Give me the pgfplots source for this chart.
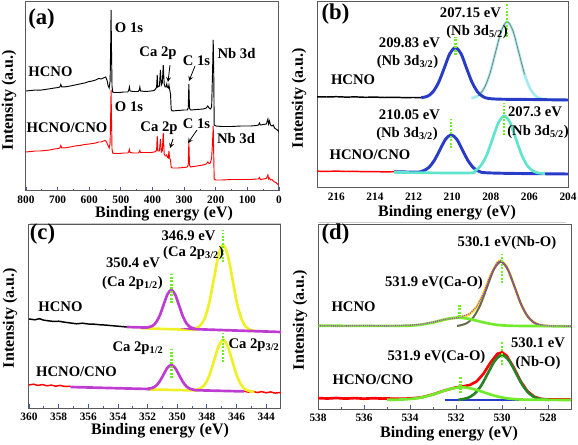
\documentclass[border=0pt]{standalone}
\usepackage{fontspec}
\setmainfont{Liberation Serif}
\usepackage{pgfplots}
\pgfplotsset{compat=1.18}
\definecolor{fitblue}{RGB}{40,60,200}
\definecolor{cyanA}{RGB}{165,235,238}
\definecolor{cyanB}{RGB}{95,228,205}
\definecolor{purp}{RGB}{190,60,210}
\definecolor{yell}{RGB}{240,240,40}
\definecolor{lime}{RGB}{115,235,45}
\definecolor{dgreen}{RGB}{40,130,40}
\definecolor{olive}{RGB}{105,105,80}
\definecolor{dotg}{RGB}{110,240,30}
\definecolor{framecol}{RGB}{90,90,90}
\definecolor{tickcol}{RGB}{70,90,170}
\tikzset{gdot/.style={draw=dotg, line width=1.8pt, dash pattern=on 1.3pt off 1.3pt}}
\pgfplotsset{
 myax/.style={scale only axis, anchor=north west, axis line style={draw=framecol, line width=0.75pt},
  ytick=\empty, ymin=0, x dir=reverse, tick align=inside, xtick pos=left, minor x tick num=1,
  every tick/.style={draw=tickcol, line width=0.6pt}, major tick length=3pt, minor tick length=1.8pt,
  tick label style={font=\bfseries\fontsize{8.5}{9}\selectfont, text=black},
  /pgf/number format/assume math mode=true}
}
\newcommand{\anno}{\bfseries\fontsize{11}{12}\selectfont}
\newcommand{\pan}{\bfseries\fontsize{17}{18}\selectfont}
\newcommand{\lab}{\bfseries\fontsize{12}{13}\selectfont}
\begin{document}
\begin{tikzpicture}
\useasboundingbox (0,0) rectangle (433.5pt,-333.75pt);
% ---------------- (a)
\begin{axis}[myax, at={(19.5pt,-1.5pt)}, width=189.75pt, height=141.75pt,
  xmin=0, xmax=800, ymax=189, xtick={0,100,...,800}]
\addplot[red, line width=0.7pt] coordinates {(800,39)(785,39.5)(770,40)(755,40)(740,40.5)(725,41)(710,42)(698,42.5)(693,43)(690,45.5)(687,43)(675,43.2)(660,44)(645,45)(630,45.5)(615,46.5)(600,47)(590,47.5)(580,48)(570,49)(562,49)(555,50)(548,50.5)(544,48)(540,45)(537,43)(534,48)(532,80)(531,101)(530,80)(528,42)(526,38)(520,37.5)(505,37.5)(490,38)(478,38)(475,39.5)(473,41.5)(471,38.5)(460,38)(445,38)(442,39)(440,40.5)(438,38.5)(420,38.5)(405,38.5)(395,39)(390,39.5)(387,41)(385,55)(383,40)(378,40)(375,52)(372,39)(369,40)(366,58)(363,37)(360,35)(357,35)(355,36)(353,34)(350,33)(348,40)(346,33)(343,31)(341,24)(338,23)(320,23)(300,23.5)(290,24)(287,26)(285,50)(283,26)(280,24)(260,25)(240,26)(230,27)(225,29)(221,27.5)(217,28)(213,33)(210,50)(208,65)(206,30)(205,12)(200,11)(180,11)(150,11.5)(120,11.5)(90,11.5)(70,12)(65,12)(62,13.5)(59,11.5)(50,12)(40,12.5)(37,14.5)(35,16)(33,12)(30,13)(27,11)(22,11.5)(18,10)(14,9)(10,8.5)(5,7)(2,6.5)(0,6)};
\addplot[black, line width=0.7pt] coordinates {(800,100)(785,100.5)(770,101)(755,100.8)(740,101.5)(725,102.2)(710,103)(698,103.5)(693,104)(690,106.5)(687,104)(675,104.2)(660,105)(645,106)(630,107)(615,108)(600,109.5)(590,110)(580,111)(570,112.5)(562,112)(555,113)(548,114)(544,111)(540,105)(537,103)(534,110)(532,150)(531,181)(530,150)(528,105)(526,99)(520,98.5)(505,98.5)(490,99)(478,99)(475,101)(473,104)(471,100)(460,99.5)(445,99.5)(442,101)(440,104)(438,100)(420,99.5)(405,100)(395,100.5)(390,102)(387,104)(385,116)(383,104)(378,105)(375,121)(372,106)(369,108)(366,126)(363,107)(360,104)(357,104)(355,107)(353,104)(350,103)(348,106)(346,102)(343,97)(341,82)(338,80)(320,80.5)(300,81)(290,81)(287,83)(285,107)(283,83)(280,81)(260,81.5)(240,82)(230,83)(225,85)(221,83)(217,82)(213,84)(210,120)(208,151)(206,110)(205,66)(200,65)(180,64.5)(150,64.5)(120,65)(90,65)(70,65.5)(65,66)(62,68)(59,66)(50,66.5)(40,67)(37,70)(35,72)(33,67)(30,70)(27,66)(22,65)(18,66)(14,63)(10,62)(5,61)(2,60)(0,59)};
\end{axis}
% ---------------- (b)
\begin{axis}[myax, at={(237.75pt,-1.5pt)}, width=188.25pt, height=139.5pt,
  xmin=204, xmax=217, ymax=186, xtick={204,206,...,216}, minor x tick num=0, major tick length=0pt]
\addplot[black, line width=1.1pt] coordinates {(217,91.2)(216.5,91.0)(216,91.3)(215.5,90.9)(215,91.1)(214.5,90.7)(214,90.9)(213.5,90.5)(213,90.7)(212.5,90.4)(212,90.5)(211.6,90.3)};
\addplot[cyanA, line width=2pt, smooth] coordinates {(209.0,89.8)(208.65,92.4)(208.35,99.4)(208.05,114.1)(207.75,135.9)(207.45,157.2)(207.15,166.3)(206.85,157.1)(206.55,135.6)(206.25,113.6)(205.95,98.9)(205.65,91.7)(205.35,89.1)(204.6,88.2)(204,88.0)};
\addplot[gray, line width=0.6pt, smooth] coordinates {(208.65,92.4)(208.35,99.4)(208.05,114.1)(207.75,135.9)(207.45,157.2)(207.15,166.3)(206.85,157.1)(206.55,135.6)(206.25,113.6)};
\addplot[fitblue, line width=2.2pt, smooth] coordinates {(211.6,90.3)(211.26,91.9)(210.98,96.5)(210.69,106.1)(210.40,120.4)(210.12,134.4)(209.83,140.3)(209.54,134.3)(209.26,120.1)(208.97,105.7)(208.68,96.0)(208.40,91.3)(208.11,89.5)(207.5,88.8)(206,88.5)(204,88.0)};
\addplot[red, line width=1.1pt] coordinates {(217,16.8)(216.5,16.6)(216,16.9)(215.5,16.5)(215,16.6)(214.5,16.3)(214,16.4)(213.5,16.1)(213,16.3)};
\addplot[fitblue, line width=2.2pt, smooth] coordinates {(213,16.3)(211.8,15.9)(211.5,17.2)(211.21,20.5)(210.92,27.7)(210.63,38.3)(210.34,48.8)(210.05,53.2)(209.76,48.7)(209.47,38.1)(209.18,27.4)(208.89,20.1)(208.6,16.6)(208.3,15.3)(207,14.6)(204,14.0)};
\addplot[cyanB, line width=2pt, smooth] coordinates {(213,15.6)(209.2,15.0)(208.8,17.4)(208.5,22.7)(208.2,33.4)(207.9,49.6)(207.6,65.4)(207.3,72.1)(207.0,65.3)(206.7,49.4)(206.4,33.1)(206.1,22.2)(205.8,16.85)(205.5,14.9)(205.2,14.4)};
\draw[gdot] (axis cs:209.83,133) -- (axis cs:209.83,151);
\draw[gdot] (axis cs:207.15,151) -- (axis cs:207.15,185);
\draw[gdot] (axis cs:210.05,40) -- (axis cs:210.05,71);
\draw[gdot] (axis cs:207.3,53) -- (axis cs:207.3,85);
\end{axis}
% ---------------- (c)
\begin{axis}[myax, at={(21.75pt,-168.75pt)}, width=189pt, height=137.25pt,
  xmin=343, xmax=360, ymax=183, xtick={344,346,...,360}]
\addplot[black, line width=1.1pt] coordinates {(360,89)(359.6,88.2)(359.3,89.3)(359,87.8)(358.6,87)(358.3,86.5)(358,86.8)(357.6,85.8)(357.2,85)(356.8,84.2)(356.4,84.8)(356,84)(355.6,83.8)(355.2,83.2)(354.8,82.9)(354.4,82.3)(354,81.8)(353.4,81)};
\addplot[yell, line width=2pt, smooth] coordinates {(352.5,79.9)(349.0,78.2)(348.76,79.8)(348.45,82.5)(348.14,90.0)(347.83,106.0)(347.52,129.9)(347.21,153.1)(346.9,162.9)(346.59,152.8)(346.28,129.2)(345.97,105.1)(345.66,88.9)(345.35,80.9)(345.04,78.0)(344.7,76.8)};
\addplot[purp, line width=2pt, smooth] coordinates {(353.4,81.0)(352.2,80.5)(351.96,80.7)(351.7,81.9)(351.44,85.3)(351.18,92.5)(350.92,103.2)(350.66,113.6)(350.4,118)(350.14,113.4)(349.88,102.7)(349.62,91.7)(349.36,84.3)(349.1,80.7)(348.84,79.3)(348.5,78.7)(343,76.0)};
\addplot[red, line width=1.1pt] coordinates {(360,23)(359.7,23.8)(359.4,22.6)(359.1,23.4)(358.8,22.2)(358.5,22.9)(358.2,21.8)(357.9,22.6)(357.6,21.5)(357.2,21.8)};
\addplot[red, line width=1.1pt] coordinates {(345.5,16.8)(345.2,15.9)(344.9,16.7)(344.6,15.5)(344.3,16.4)(344,15.2)(343.7,16.1)(343.4,14.9)(343,15.6)};
\addplot[yell, line width=2pt, smooth] coordinates {(352.0,18.6)(348.9,17.7)(348.7,18.3)(348.4,19.8)(348.1,24.4)(347.8,34.0)(347.5,48.2)(347.2,62.1)(346.9,68.0)(346.6,61.9)(346.3,47.7)(346.0,33.3)(345.7,23.4)(345.4,18.6)(345.1,16.9)(344.8,16.2)};
\addplot[purp, line width=2pt, smooth] coordinates {(357.2,21.0)(352.2,19.1)(351.96,19.3)(351.7,20.0)(351.44,22.1)(351.18,26.7)(350.92,33.5)(350.66,40.2)(350.4,43.0)(350.14,40.0)(349.88,33.1)(349.62,26.1)(349.36,21.3)(349.1,19.0)(348.84,18.1)(348.5,17.7)(345.5,16.6)};
\draw[gdot] (axis cs:350.4,105) -- (axis cs:350.4,136);
\draw[gdot] (axis cs:346.9,146) -- (axis cs:346.9,178);
\draw[gdot] (axis cs:350.4,30) -- (axis cs:350.4,61);
\draw[gdot] (axis cs:346.9,46) -- (axis cs:346.9,75);
\end{axis}
% ---------------- (d)
\begin{axis}[myax, at={(238.5pt,-168.75pt)}, width=189.75pt, height=138pt,
  xmin=527, xmax=538, ymax=184, xtick={528,530,...,538}]
\addplot[yell, line width=2pt, smooth] coordinates {(533.0,86.4)(532.5,89.3)(532.0,91.4)(531.7,92.3)(531.4,94.9)(531.1,102.0)(530.8,115.9)(530.5,133.6)(530.2,146.4)(530.05,148.1)(529.8,142.4)(529.5,125.3)(529.2,106.4)(528.9,93.1)(528.6,86.3)(528.3,83.7)(528.0,82.9)};
\addplot[olive, line width=1.5pt, smooth] coordinates {(531.95,83.2)(531.85,83.5)(531.55,85.6)(531.25,91.5)(530.95,103.7)(530.65,121.9)(530.35,139.7)(530.05,147.3)(529.75,139.7)(529.45,121.9)(529.15,103.7)(528.85,91.5)(528.55,85.6)(528.25,83.5)(527.9,82.9)};
\addplot[lime, line width=2pt, smooth] coordinates {(538,83.2)(534.8,83.1)(534.45,83.1)(534.03,83.36)(533.6,84.1)(533.18,85.7)(532.75,88.0)(532.33,90.3)(531.9,91.3)(531.48,90.3)(531.05,88.0)(530.63,85.7)(530.2,84.1)(529.78,83.36)(529.35,83.1)(528.5,83.0)(527,82.6)};
\addplot[purp, line width=1pt, dash pattern=on 0.8pt off 0.8pt] coordinates {(538,83.4)(537,83.0)(536,83.5)(535,83.1)(534,83.8)(533.5,84.8)(533,86.8)(532.5,89.6)(532,91.0)(531.7,92.8)(531.4,95.3)(531.1,102.5)(530.8,115.5)(530.5,134)(530.2,147)(530.05,148.6)(529.8,142.8)(529.5,125)(529.2,106)(528.9,93.5)(528.6,86)(528.3,84)(528,83.2)(527,82.8)};
\addplot[red, line width=2pt] coordinates {(538,10.9)(537.6,10.5)(537.2,11)(536.8,10.4)(536.4,10.9)(536,10.3)(535.6,10.8)(535.2,10.4)(535,10.5)(534.5,10.2)(534.0,10.5)(533.5,11.6)(533.0,14.6)(532.5,18.5)(532.0,21.6)(531.7,22.6)(531.4,24.0)(531.1,27.6)(530.8,35.4)(530.5,46.4)(530.2,55.2)(530.0,56.6)(529.8,53.4)(529.5,41.9)(529.2,28.1)(528.9,17.8)(528.6,12.3)(528.3,10.1)(528.0,9.5)(527.5,9.6)(527,9.4)};
\addplot[fitblue, line width=1.5pt] coordinates {(532.5,8.6)(527.5,8.6)};
\addplot[dgreen, line width=2pt, smooth] coordinates {(531.9,9.3)(531.8,9.5)(531.5,11.0)(531.2,15.1)(530.9,23.6)(530.6,36.3)(530.3,48.7)(530.0,54.0)(529.7,48.7)(529.4,36.3)(529.1,23.6)(528.8,15.1)(528.5,11.0)(528.2,9.5)(527.9,9.1)};
\addplot[lime, line width=2pt, smooth] coordinates {(535.0,9.2)(534.6,9.34)(534.13,9.75)(533.65,10.9)(533.18,13.3)(532.7,16.8)(532.23,20.2)(531.75,21.7)(531.28,20.2)(530.8,16.8)(530.33,13.3)(529.85,10.9)(529.38,9.75)(528.9,9.34)(527,9.0)};
\draw[gdot] (axis cs:530.0,126) -- (axis cs:530.0,156);
\draw[gdot] (axis cs:531.85,92) -- (axis cs:531.85,104);
\draw[gdot] (axis cs:530.0,44) -- (axis cs:530.0,67);
\draw[gdot] (axis cs:531.8,16) -- (axis cs:531.8,32);
\end{axis}
% ---------------- labels
\begin{scope}[x=0.75pt, y=-0.75pt, every node/.style={inner sep=0pt}]
\draw[gray!40, line width=0.6pt] (30,223) -- (281,223);
\draw[gray!40, line width=0.6pt] (318,222) -- (566,222);
% axis titles
\node at (164,214) {\lab Binding energy (eV)};
\node at (447,213) {\lab Binding energy (eV)};
\node at (160,431) {\lab Binding energy (eV)};
\node at (449,434) {\lab Binding energy (eV)};
\node[rotate=90] at (9,100) {\lab Intensity (a.u.)};
\node[rotate=90] at (299,98) {\lab Intensity (a.u.)};
\node[rotate=90] at (10,318) {\lab Intensity (a.u.)};
\node[rotate=90] at (300,320) {\lab Intensity (a.u.)};
% (a)
\node at (41.5,19) {\pan (a)};
\node at (129,28) {\anno O 1s};
\node at (158,53) {\anno Ca 2p};
\node at (196.5,61) {\anno C 1s};
\node at (236.5,53) {\anno Nb 3d};
\node at (50.5,72) {\anno HCNO};
\node at (129,107) {\anno O 1s};
\node at (159,128) {\anno Ca 2p};
\node at (196.5,124) {\anno C 1s};
\node at (236,138) {\anno Nb 3d};
\node at (67,128) {\anno HCNO/CNO};
\draw[-stealth, line width=0.6pt] (170,65) -- (168,82);
\draw[-stealth, line width=0.6pt] (195,66) -- (189,81);
\draw[-stealth, line width=0.6pt] (173,139) -- (170,148);
\draw[-stealth, line width=0.6pt] (197,130) -- (188,143);
% (b)
\node at (335.5,14) {\pan (b)};
\node at (470.5,13) {\anno 207.15 eV};
\node at (477,32) {\anno (Nb 3d\textsubscript{5/2})};
\node at (409.5,43) {\anno 209.83 eV};
\node at (407.5,62) {\anno (Nb 3d\textsubscript{3/2})};
\node at (353,80) {\anno HCNO};
\node at (409.5,115) {\anno 210.05 eV};
\node at (407,134) {\anno (Nb 3d\textsubscript{3/2})};
\node at (535,112) {\anno 207.3 eV};
\node at (538,132) {\anno (Nb 3d\textsubscript{5/2})};
\node at (370,155) {\anno HCNO/CNO};
% (c)
\node at (42.5,234) {\pan (c)};
\node at (188.5,236) {\anno 346.9 eV};
\node at (193.5,253) {\anno (Ca 2p\textsubscript{3/2})};
\node at (133,263) {\anno 350.4 eV};
\node at (132.5,283) {\anno (Ca 2p\textsubscript{1/2})};
\node at (60.5,307) {\anno HCNO};
\node at (138,348) {\anno Ca 2p\textsubscript{1/2}};
\node at (254,345) {\anno Ca 2p\textsubscript{3/2}};
\node at (76.5,372) {\anno HCNO/CNO};
% (d)
\node at (335.5,234) {\pan (d)};
\node at (507,243) {\anno 530.1 eV(Nb-O)};
\node at (434,283) {\anno 531.9 eV(Ca-O)};
\node at (353.5,307) {\anno HCNO};
\node at (538,343) {\anno 530.1 eV};
\node at (538,363) {\anno (Nb-O)};
\node at (436.5,357) {\anno 531.9 eV(Ca-O)};
\node at (373,380) {\anno HCNO/CNO};
\end{scope}
\end{tikzpicture}
\end{document}
